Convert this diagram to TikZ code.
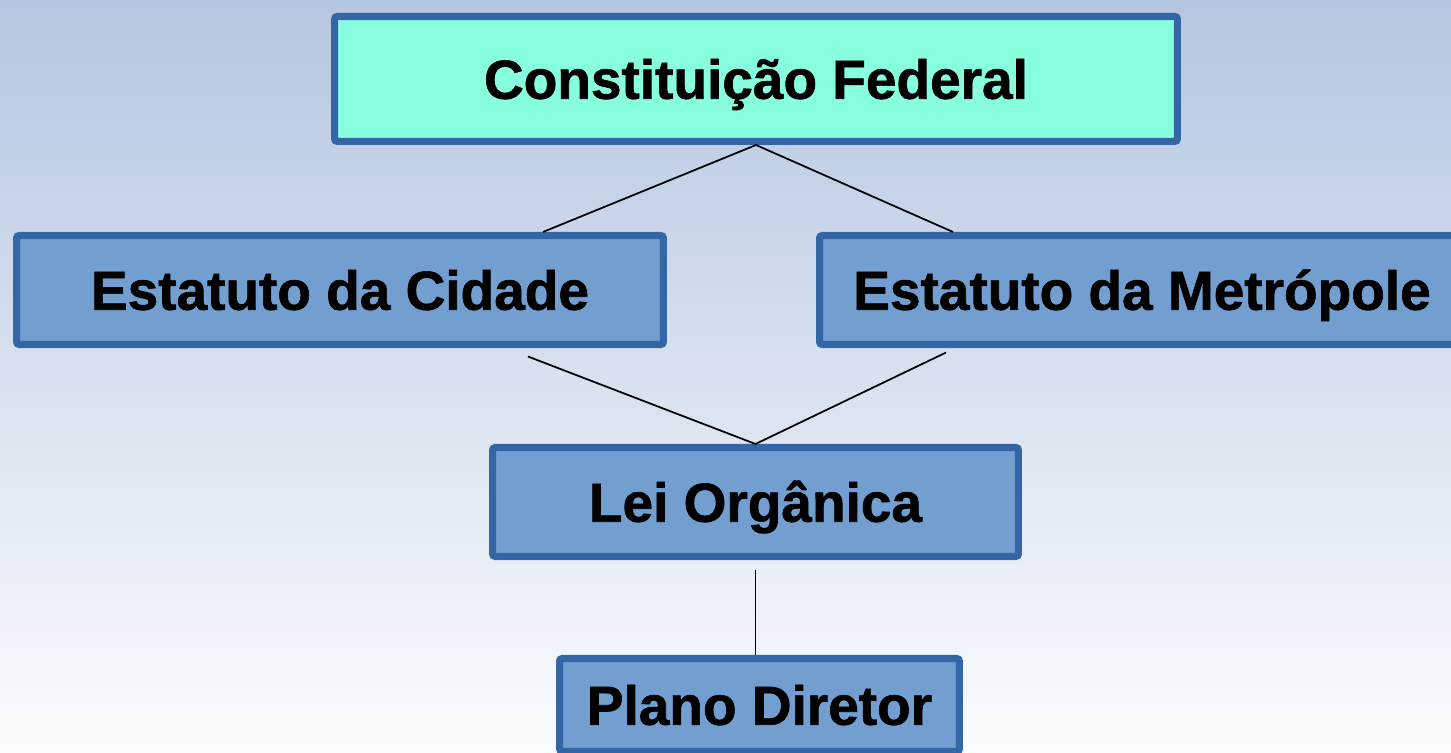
\documentclass[tikz,border=0pt]{standalone}
\usepackage{fontspec}
\setmainfont{Liberation Sans}[BoldFeatures={FakeBold=1.2}]
\usetikzlibrary{positioning, calc}
\definecolor{boxline}{HTML}{3465A4}
\definecolor{boxfill}{HTML}{729FCF}
\definecolor{topfill}{HTML}{87FFDF}
\definecolor{bgtop}{HTML}{B4C6E0}
\definecolor{bgbottom}{HTML}{FBFCFE}
\tikzset{lawbox/.style={draw=boxline, line width=4pt, fill=boxfill, rounded corners=1.5pt,
    font=\fontsize{31.3}{36}\selectfont\bfseries, text=black, inner sep=0pt,
    text height=0.9cm, text depth=0.11cm},
  link/.style={black, line width=1pt}}

\begin{document}
\begin{tikzpicture}[x=0.02cm, y=-0.02cm]
                    %Page and background:
                    \useasboundingbox (0,0) rectangle (1451,753);
                    \clip (0,0) rectangle (1451,753);
                    \shade[top color=bgtop, bottom color=bgbottom] (0,0) rectangle (1451,753);
                    %Boxes:
                    \node[lawbox, fill=topfill, minimum width=16.86cm, minimum height=2.5cm] (cf) at (756,79) {Constituição Federal};
                    \node[lawbox, minimum width=12.94cm, minimum height=2.18cm] (ec) at (340,290) {Estatuto da Cidade};
                    \node[lawbox, minimum width=12.9cm, minimum height=2.18cm] (em) at (1142,290) {Estatuto da Metrópole};
                    \node[lawbox, minimum width=10.52cm, minimum height=2.18cm] (lo) at (755.5,502) {Lei Orgânica};
                    \node[lawbox, minimum width=8cm, minimum height=1.86cm] (pd) at (759.5,705) {Plano Diretor};
                    %Connectors:
                        \draw[link] (cf.south) -- ([xshift=4.06cm]ec.north);
                        \draw[link] (cf.south) -- ([xshift=-3.78cm]em.north);
                        \draw[link] ([xshift=3.76cm, yshift=-0.17cm]ec.south) -- (lo.north);
                        \draw[link] ([xshift=-3.92cm, yshift=-0.09cm]em.south) -- (lo.north);
                        \draw[link] ([yshift=-0.19cm]lo.south) -- (lo.south |- pd.north);
                \end{tikzpicture}
\end{document}
